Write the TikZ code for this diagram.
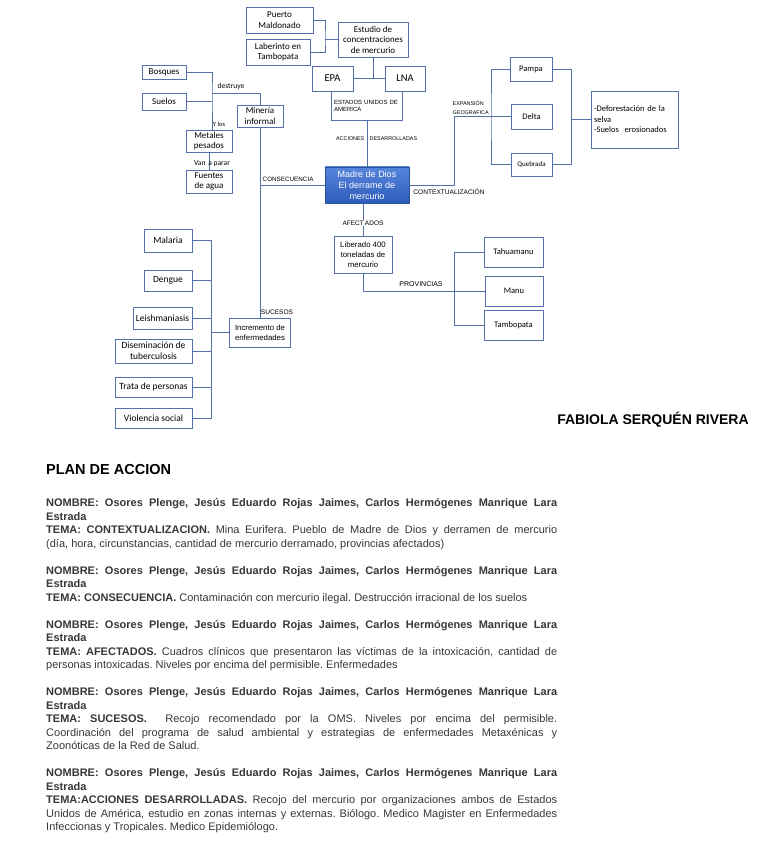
\documentclass[tikz,border=0pt]{standalone}
\usepackage{fontspec}
\setmainfont{Liberation Sans}
\newfontfamily\boxfont{Carlito}
\usetikzlibrary{calc}
\definecolor{BoxClr}{RGB}{84,112,170}
\definecolor{MadreTop}{RGB}{86,133,220}
\definecolor{MadreBot}{RGB}{46,92,186}
\definecolor{MadreLine}{RGB}{47,82,150}
\definecolor{TextClr}{RGB}{55,55,55}
\tolerance=9999
\frenchspacing
\newcommand\nombre{{\bfseries NOMBRE: Osores Plenge, Jesús Eduardo Rojas Jaimes, Carlos Hermógenes Manrique Lara\linebreak Estrada}\newline}

\begin{document}
\begin{tikzpicture}[x=1pt,y=-1pt,
  box/.style={draw=BoxClr,line width=0.8pt,fill=white,inner sep=1pt,align=center,
    font=\boxfont\fontsize{9}{10.5}\selectfont},
  link/.style={draw=BoxClr,line width=0.8pt},
  lbl/.style={inner sep=0.5pt,font=\fontsize{6.3}{7.5}\selectfont},
  cal/.style={inner sep=0.5pt,font=\boxfont\fontsize{7.5}{9}\selectfont}]
\useasboundingbox (0,0) rectangle (768,866);

% top cluster
\node[box,minimum width=67,minimum height=26] (puerto) at (279.5,20) {Puerto\\Maldonado};
\node[box,minimum width=64,minimum height=26] (laberinto) at (278,52) {Laberinto en\\Tambopata};
\node[box,minimum width=70,minimum height=35] (estudio) at (373,39.5) {Estudio de\\concentraciones\\de mercurio};
\node[box,minimum width=41,minimum height=25,font=\boxfont\fontsize{10.5}{12}\selectfont] (epa) at (332.5,78.5) {EPA};
\node[box,minimum width=40,minimum height=25,font=\boxfont\fontsize{10.5}{12}\selectfont] (lna) at (405,78.5) {LNA};
\node[lbl,minimum width=70,minimum height=29,text width=66,align=left,inner sep=2pt,
  font=\fontsize{6}{7}\selectfont] (eeuu) at (367,105.5) {ESTADOS UNIDOS DE\\AMERICA};
\node[box,minimum width=84,minimum height=36,top color=MadreTop,bottom color=MadreBot,draw=MadreLine,
  text=white,font=\fontsize{9}{11}\selectfont] (madre) at (367,185) {Madre de Dios\\El derrame de\\mercurio};

% left cluster
\node[box,minimum width=44,minimum height=14] (bosques) at (164,72) {Bosques};
\node[box,minimum width=44,minimum height=17] (suelos) at (164,101.5) {Suelos};
\node[box,minimum width=46,minimum height=22] (mineria) at (260,116) {Minería\\informal};
\node[box,minimum width=46,minimum height=22] (metales) at (209,141) {Metales\\pesados};
\node[box,minimum width=46,minimum height=23] (fuentes) at (209,181.5) {Fuentes\\de agua};

% diseases
\node[box,minimum width=61,minimum height=29,font=\fontsize{7.8}{9.5}\selectfont] (incremento) at (260,332.5) {Incremento de\\enfermedades};
\node[box,minimum width=48,minimum height=23,font=\boxfont\fontsize{9.5}{11}\selectfont] (malaria) at (168,240.5) {Malaria};
\node[box,minimum width=48,minimum height=21,font=\boxfont\fontsize{9.5}{11}\selectfont] (dengue) at (168,280.5) {Dengue};
\node[box,minimum width=59,minimum height=22,font=\boxfont\fontsize{9.5}{11}\selectfont] (leish) at (162.5,318) {Leishmaniasis};
\node[box,minimum width=77,minimum height=24,font=\boxfont\fontsize{9.5}{11}\selectfont] (disem) at (153.5,351) {Diseminación de\\tuberculosis};
\node[box,minimum width=77,minimum height=20,font=\boxfont\fontsize{9.5}{11}\selectfont] (trata) at (153.5,387) {Trata de personas};
\node[box,minimum width=77,minimum height=20,font=\boxfont\fontsize{9.5}{11}\selectfont] (violencia) at (153.5,418) {Violencia social};

% provinces
\node[box,minimum width=58,minimum height=37,font=\fontsize{7.8}{9.8}\selectfont] (liberado) at (363,254.5) {Liberado 400\\toneladas de\\mercurio};
\node[box,minimum width=59,minimum height=30,font=\boxfont\fontsize{8.5}{10}\selectfont] (tahuamanu) at (513.5,252) {Tahuamanu};
\node[box,minimum width=58,minimum height=30,font=\boxfont\fontsize{8.5}{10}\selectfont] (manu) at (514,291) {Manu};
\node[box,minimum width=59,minimum height=30,font=\boxfont\fontsize{8.5}{10}\selectfont] (tambopata) at (513.5,325) {Tambopata};

% geography
\node[box,minimum width=42,minimum height=24,font=\boxfont\fontsize{8.5}{10}\selectfont] (pampa) at (531,69) {Pampa};
\node[box,minimum width=41,minimum height=25,font=\boxfont\fontsize{8.5}{10}\selectfont] (delta) at (531.5,116.5) {Delta};
\node[box,minimum width=41,minimum height=23,font=\boxfont\fontsize{7}{9}\selectfont] (quebrada) at (531.5,164.5) {Quebrada};
\node[box,minimum width=87,minimum height=57,text width=81,align=left,inner sep=3pt,
  font=\boxfont\fontsize{8.5}{10.5}\selectfont] (deforest) at (634.5,119.5)
  {-Deforestación de la\\selva\\-Suelos\ \ erosionados};

\coordinate (pl) at (325,39.5);
\coordinate (dj) at (212,93);
\coordinate (dz) at (211,332.5);
\coordinate (pv) at (454,291);
\coordinate (ex) at (454,116.5);
\coordinate (gl) at (491,116.5);
\coordinate (gr) at (571,119.5);

\draw[link] (puerto.east) -| (pl) |- (laberinto.east);
\draw[link] (pl) -- (estudio.west);
\draw[link] (epa.east) -- (lna.west);
\draw[link] (estudio.south) -- (estudio.south |- epa.east);
\draw[link] (eeuu.north west) -- (eeuu.south west) -- (eeuu.south east) -- (eeuu.north east);
\draw[link] (eeuu.south) -- (madre.north);
\draw[link] (madre.west) -- (madre.west -| mineria.south);
\draw[link] (mineria.north) |- (dj);
\draw[link] (bosques.east) -| (dj) -- (dj |- metales.north);
\draw[link] (suelos.east) -- (suelos.east -| dj);
\draw[link] (metales.south) -- (fuentes.north);
\draw[link] (mineria.south) -- (incremento.north);
\draw[link] (incremento.west) -- (dz);
\foreach \d in {malaria,dengue,leish,disem,trata,violencia}
  \draw[link] (\d.east) -| (dz);
\draw[link] (liberado.north) -- node[lbl,fill=white,pos=0.39,font=\fontsize{6.5}{7.5}\selectfont]{AFECT\,ADOS} (liberado.north |- madre.south);
\draw[link] (liberado.south) |- (manu.west);
\draw[link] (tahuamanu.west) -| (pv);
\draw[link] (tambopata.west) -| (pv);
\draw[link] (madre.east) -| (ex) -- (delta.west);
\draw[link] (pampa.west) -| (gl) |- (quebrada.west);
\draw[link] (pampa.east) -| (gr) |- (quebrada.east);
\draw[link] (gr) -- (deforest.west);

% labels
\node[cal] (destruye) at (231,87) {destruye};
\node[cal,font=\boxfont\fontsize{6.5}{8}\selectfont] (ylos) at (219,124) {Y los};
\node[cal] (vanaparar) at (212,164) {Van\ \,a parar};
\node[lbl,anchor=west] (consecuencia) at (262,179) {CONSECUENCIA};
\node[lbl,anchor=east,font=\fontsize{5.4}{7}\selectfont] (acciones) at (365,139) {ACCIONES};
\node[lbl,anchor=west,font=\fontsize{5.4}{7}\selectfont] (desarrolladas) at (369,139) {DESARROLLADAS};
\node[lbl,font=\fontsize{6.6}{8}\selectfont] (sucesos) at (277,312) {SUCESOS};
\node[lbl,font=\fontsize{7}{8}\selectfont] (provincias) at (421,284) {PROVINCIAS};
\node[lbl,anchor=west,align=left,font=\fontsize{5.4}{8.5}\selectfont] (expansion) at (452,107.5) {EXPANSIÓN\\GEOGRAFICA};
\node[lbl,font=\fontsize{6.6}{8}\selectfont] (contexto) at (449,192) {CONTEXTUALIZACIÓN};

% text part
\node[font=\bfseries\fontsize{14}{16}\selectfont,inner sep=0pt] (autor) at (653,420) {FABIOLA SERQUÉN RIVERA};
\node[anchor=west,font=\bfseries\fontsize{14.5}{16}\selectfont,inner sep=0pt] (titulo) at (46,470) {PLAN DE ACCION};
\node[anchor=north west,inner sep=0pt,text width=511pt,align=justify,text=TextClr,
  font=\fontsize{11}{13.5}\selectfont] (plan) at (46,498.5) {%
\nombre{\bfseries TEMA: CONTEXTUALIZACION.} Mina Eurifera. Pueblo de Madre de Dios y derramen de mercurio\linebreak
(día, hora, circunstancias, cantidad de mercurio derramado, provincias afectados)\par\vspace{13.5pt}
\nombre{\bfseries TEMA: CONSECUENCIA.} Contaminación con mercurio ilegal. Destrucción irracional de los suelos\par\vspace{13.5pt}
\nombre{\bfseries TEMA: AFECTADOS.} Cuadros clínicos que presentaron las víctimas de la intoxicación, cantidad de\linebreak
personas intoxicadas. Niveles por encima del permisible. Enfermedades\par\vspace{13.5pt}
\nombre{\bfseries TEMA: SUCESOS.}\ \ Recojo recomendado por la OMS. Niveles por encima del permisible.\linebreak
Coordinación del programa de salud ambiental y estrategias de enfermedades Metaxénicas y\linebreak
Zoonóticas de la Red de Salud.\par\vspace{13.5pt}
\nombre{\bfseries TEMA:ACCIONES DESARROLLADAS.} Recojo del mercurio por organizaciones ambos de Estados\linebreak
Unidos de América, estudio en zonas internas y externas. Biólogo. Medico Magister en Enfermedades\linebreak
Infeccionas y Tropicales. Medico Epidemiólogo.};
\end{tikzpicture}
\end{document}
